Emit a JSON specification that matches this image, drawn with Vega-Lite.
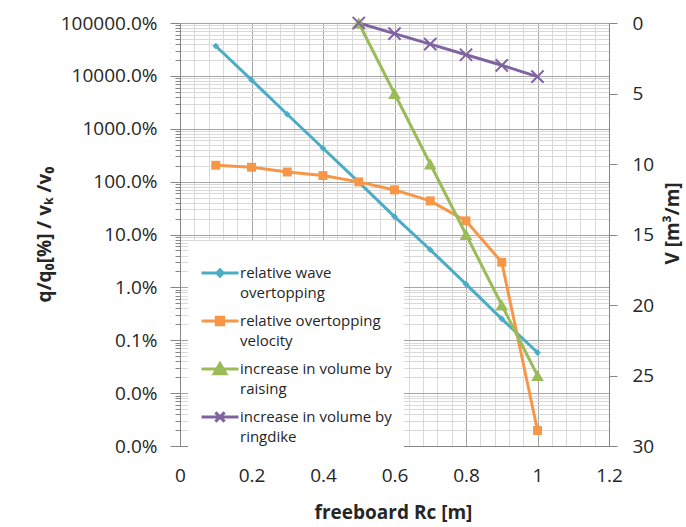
{
  "$schema": "https://vega.github.io/schema/vega-lite/v6.json",
  "width": 429,
  "height": 423,
  "autosize": "none",
  "padding": {"left": 180, "top": 23, "right": 77, "bottom": 81},
  "background": "white",
  "config": {
    "font": "Open Sans",
    "view": {"stroke": null},
    "axis": {"labelFont": "Open Sans", "labelColor": "#262626", "titleFont": "Open Sans", "titleColor": "#262626", "domainColor": "#868686", "tickColor": "#868686"}
  },
  "datasets": {
    "left": [
      {"x": 0.1, "series": "relative wave overtopping", "value": 367},
      {"x": 0.2, "series": "relative wave overtopping", "value": 83.7},
      {"x": 0.3, "series": "relative wave overtopping", "value": 18.8},
      {"x": 0.4, "series": "relative wave overtopping", "value": 4.28},
      {"x": 0.5, "series": "relative wave overtopping", "value": 0.98},
      {"x": 0.6, "series": "relative wave overtopping", "value": 0.218},
      {"x": 0.7, "series": "relative wave overtopping", "value": 0.0515},
      {"x": 0.8, "series": "relative wave overtopping", "value": 0.0115},
      {"x": 0.9, "series": "relative wave overtopping", "value": 0.00254},
      {"x": 1.0, "series": "relative wave overtopping", "value": 0.000586},
      {"x": 0.1, "series": "relative overtopping velocity", "value": 2.04},
      {"x": 0.2, "series": "relative overtopping velocity", "value": 1.87},
      {"x": 0.3, "series": "relative overtopping velocity", "value": 1.52},
      {"x": 0.4, "series": "relative overtopping velocity", "value": 1.3},
      {"x": 0.5, "series": "relative overtopping velocity", "value": 0.99},
      {"x": 0.6, "series": "relative overtopping velocity", "value": 0.697},
      {"x": 0.7, "series": "relative overtopping velocity", "value": 0.432},
      {"x": 0.8, "series": "relative overtopping velocity", "value": 0.181},
      {"x": 0.9, "series": "relative overtopping velocity", "value": 0.0299},
      {"x": 1.0, "series": "relative overtopping velocity", "value": 0.0000196}
    ],
    "right": [
      {"x": 0.5, "series": "increase in volume by raising", "V": 0},
      {"x": 0.6, "series": "increase in volume by raising", "V": 5},
      {"x": 0.7, "series": "increase in volume by raising", "V": 10},
      {"x": 0.8, "series": "increase in volume by raising", "V": 15},
      {"x": 0.9, "series": "increase in volume by raising", "V": 20},
      {"x": 1.0, "series": "increase in volume by raising", "V": 25},
      {"x": 0.5, "series": "increase in volume by ringdike", "V": 0},
      {"x": 0.6, "series": "increase in volume by ringdike", "V": 0.75},
      {"x": 0.7, "series": "increase in volume by ringdike", "V": 1.5},
      {"x": 0.8, "series": "increase in volume by ringdike", "V": 2.25},
      {"x": 0.9, "series": "increase in volume by ringdike", "V": 3.0},
      {"x": 1.0, "series": "increase in volume by ringdike", "V": 3.8}
    ]
  },
  "resolve": {"scale": {"y": "independent"}},
  "encoding": {
    "x": {
      "field": "x", "type": "quantitative",
      "scale": {"domain": [0, 1.2], "nice": false, "zero": false},
      "axis": {
        "title": "freeboard Rc [m]",
        "values": [0,0.04,0.08,0.12,0.16,0.2,0.24,0.28,0.32,0.36,0.4,0.44,0.48,0.52,0.56,0.6,0.64,0.68,0.72,0.76,0.8,0.84,0.88,0.92,0.96,1,1.04,1.08,1.12,1.16,1.2],
        "labelExpr": "abs(datum.value*5 - round(datum.value*5)) < 0.001 ? format(datum.value, '~g') : ''",
        "labelFlush": false, "labelOverlap": false,
        "labelFontSize": 19, "labelPadding": 20,
        "ticks": false,
        "grid": true,
        "gridColor": {"condition": {"test": "abs(datum.value*5 - round(datum.value*5)) < 0.001", "value": "#a6a6a6"}, "value": "#d9d9d9"},
        "gridWidth": 1,
        "titleFontSize": 19, "titleFontWeight": "bold",
        "titleX": 213, "titleY": 66, "titleBaseline": "middle", "titleAlign": "center"
      }
    }
  },
  "layer": [
    {
      "data": {"name": "left"},
      "encoding": {
        "y": {
          "field": "value", "type": "quantitative",
          "scale": {"type": "log", "domain": [0.00001, 1000], "nice": false},
          "axis": {
            "title": "q/q₀[%] / vₖ /v₀",
            "values": [1e-5,2e-5,3e-5,4e-5,5e-5,6e-5,7e-5,8e-5,9e-5,1e-4,2e-4,3e-4,4e-4,5e-4,6e-4,7e-4,8e-4,9e-4,0.001,0.002,0.003,0.004,0.005,0.006,0.007,0.008,0.009,0.01,0.02,0.03,0.04,0.05,0.06,0.07,0.08,0.09,0.1,0.2,0.3,0.4,0.5,0.6,0.7,0.8,0.9,1,2,3,4,5,6,7,8,9,10,20,30,40,50,60,70,80,90,100,200,300,400,500,600,700,800,900,1000],
            "labelExpr": "abs(log(datum.value)/LN10 - round(log(datum.value)/LN10)) < 0.001 ? format(datum.value, '.1%') : ''",
            "labelOverlap": false, "labelFlush": false,
            "labelFontSize": 19, "labelPadding": 13,
            "tickSize": {"condition": {"test": "abs(log(datum.value)/LN10 - round(log(datum.value)/LN10)) < 0.001", "value": 10}, "value": 5},
            "grid": true,
            "gridColor": {"condition": {"test": "abs(log(datum.value)/LN10 - round(log(datum.value)/LN10)) < 0.001", "value": "#a6a6a6"}, "value": "#d9d9d9"},
            "titleFontSize": 19, "titleFontWeight": "bold",
            "titleAngle": 270, "titleX": -136, "titleY": 211, "titleBaseline": "middle", "titleAlign": "center"
          }
        }
      },
      "layer": [
        {
          "mark": {"type": "line", "strokeWidth": 3},
          "encoding": {
            "color": {
              "field": "series", "type": "nominal",
              "scale": {
                "domain": ["relative wave overtopping", "relative overtopping velocity", "increase in volume by raising", "increase in volume by ringdike"],
                "range": ["#4bacc6", "#f79646", "#9bbb59", "#8064a2"]
              },
              "legend": {
                "title": null,
                "orient": "none", "legendX": 8, "legendY": 218,
                "fillColor": "white", "padding": 12,
                "symbolSize": 1369, "symbolStrokeWidth": 3,
                "labelFont": "Open Sans", "labelFontSize": 15, "labelColor": "#262626", "labelLimit": 400, "labelOffset": 0,
                "rowPadding": -2.5,
                "labelExpr": "datum.label == 'relative wave overtopping' ? ['relative wave','overtopping'] : datum.label == 'relative overtopping velocity' ? ['relative overtopping','velocity'] : datum.label == 'increase in volume by raising' ? ['increase in volume by','raising'] : ['increase in volume by','ringdike']",
                "encode": {
                  "labels": {"update": {"lineHeight": {"value": 20}}},
                  "symbols": {"update": {
                    "shape": {"signal": "datum.value == 'relative wave overtopping' ? 'M-1,0L1,0M0,-0.17L0.17,0L0,0.17L-0.17,0Z' : datum.value == 'relative overtopping velocity' ? 'M-1,0L1,0M-0.2,-0.2L0.2,-0.2L0.2,0.2L-0.2,0.2Z' : datum.value == 'increase in volume by raising' ? 'M-1,0L1,0M0,-0.3L0.32,0.25L-0.32,0.25Z' : 'M-1,0L1,0M-0.25,-0.25L0.25,0.25M-0.25,0.25L0.25,-0.25'"},
                    "fill": {"scale": "color", "field": "value"},
                    "fillOpacity": {"value": 1}
                  }}
                }
              }
            }
          }
        },
        {
          "transform": [{"filter": "datum.series == 'relative wave overtopping'"}],
          "mark": {"type": "point", "shape": "diamond", "filled": true, "size": 45, "color": "#4bacc6", "opacity": 1}
        },
        {
          "transform": [{"filter": "datum.series == 'relative overtopping velocity'"}],
          "mark": {"type": "point", "shape": "square", "filled": true, "size": 80, "color": "#f79646", "opacity": 1}
        }
      ]
    },
    {
      "data": {"name": "right"},
      "encoding": {
        "y": {
          "field": "V", "type": "quantitative",
          "scale": {"domain": [0, 30], "reverse": true, "nice": false, "zero": false},
          "axis": {
            "orient": "right",
            "title": "V [m³/m]",
            "values": [0, 5, 10, 15, 20, 25, 30],
            "grid": false,
            "labelFontSize": 19, "labelPadding": 15, "tickSize": 8,
            "titleFontSize": 19, "titleFontWeight": "bold",
            "titleAngle": 270, "titleX": 63, "titleY": 200, "titleBaseline": "middle", "titleAlign": "center"
          }
        }
      },
      "layer": [
        {
          "mark": {"type": "line", "strokeWidth": 3},
          "encoding": {
            "color": {
              "field": "series", "type": "nominal",
              "scale": {
                "domain": ["relative wave overtopping", "relative overtopping velocity", "increase in volume by raising", "increase in volume by ringdike"],
                "range": ["#4bacc6", "#f79646", "#9bbb59", "#8064a2"]
              }
            }
          }
        },
        {
          "transform": [{"filter": "datum.series == 'increase in volume by raising'"}],
          "mark": {"type": "point", "shape": "triangle-up", "filled": true, "size": 160, "color": "#9bbb59", "opacity": 1}
        },
        {
          "transform": [{"filter": "datum.series == 'increase in volume by ringdike'"}],
          "mark": {"type": "point", "shape": "M-1,-1L1,1M-1,1L1,-1", "filled": false, "size": 150, "color": "#8064a2", "strokeWidth": 2, "opacity": 1}
        }
      ]
    }
  ]
}
